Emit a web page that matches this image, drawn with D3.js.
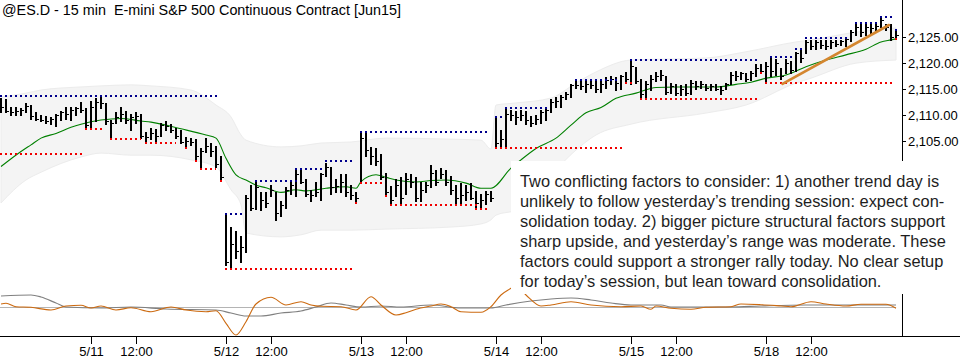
<!DOCTYPE html>
<html><head><meta charset="utf-8">
<script src="https://cdn.jsdelivr.net/npm/d3@7"></script>
<style>body{margin:0;background:#fff}svg{display:block}</style>
</head><body><svg id="c" width="960" height="360"></svg>
<script>
// ---------- DATA ----------
const highs = [2113.25,2113.0,2111.5,2111.5,2111.25,2112.25,2112.0,2110.5,2110.0,2109.75,2109.5,2110.25,2110.75,2111.5,2111.5,2111.5,2112.5,2111.25,
2112.75,2113.25,2113.5,2112.25,2109.0,2110.5,2111.5,2110.75,2110.25,2110.5,2110.25,2106.75,2107.5,2107.25,2108.5,2108.75,2108.25,2107.5,2107.0,2105.75,2105.5,2105.25,2103.5,2105.5,2104.5,2104.0,2102.0,
2090.75,2088.25,2087.5,2086.5,2094.5,2096.5,2097.0,2095.0,2095.0,2096.5,2095.0,2093.25,2096.0,2097.0,2099.25,2099.25,2097.5,2095.5,2097.0,2098.75,2100.75,2100.0,2097.5,2098.5,2098.5,2096.5,2095.0,
2106.5,2106.5,2103.75,2103.5,2102.5,2098.75,2096.25,2097.5,2098.0,2098.75,2098.5,2098.0,2097.0,2097.0,2100.25,2099.25,2099.75,2099.25,2098.25,2096.5,2096.75,2096.5,2096.75,2095.25,2094.75,2095.25,2095.25,
2109.5,2107.0,2111.25,2111.0,2110.75,2111.0,2110.75,2109.75,2110.0,2111.0,2111.25,2113.0,2113.5,2113.75,2114.5,2116.0,2116.5,2116.5,2116.5,2116.5,2116.5,2116.5,2117.25,2117.5,2117.25,2117.75,2118.25,
2120.5,2119.25,2117.0,2116.5,2117.75,2118.25,2118.75,2117.5,2116.25,2116.0,2115.75,2116.0,2116.75,2116.5,2116.5,2116.0,2116.0,2116.0,2115.5,2116.25,2118.25,2118.5,2118.25,2118.0,2118.5,2119.75,2119.75,
2120.25,2121.0,2120.75,2119.0,2120.75,2120.5,2122.25,2122.75,2124.5,2124.5,2124.5,2124.5,2124.5,2124.5,2124.5,2124.5,2125.0,2126.5,2127.5,2127.5,2127.5,2127.5,2127.5,2128.75,2127.5,2127.5,2126.25];
const lows = [2110.5,2110.5,2110.0,2110.0,2110.0,2110.5,2109.25,2109.0,2108.75,2108.5,2108.25,2107.75,2109.0,2109.25,2109.0,2110.0,2110.5,2107.5,
2107.5,2108.75,2111.25,2108.25,2105.5,2108.5,2108.75,2108.5,2107.0,2108.5,2105.5,2104.75,2105.25,2105.0,2106.0,2107.0,2106.75,2105.5,2104.5,2103.75,2104.25,2101.25,2099.5,2102.75,2102.0,2100.0,2097.5,
2081.0,2080.5,2082.25,2081.5,2083.5,2091.5,2091.75,2091.5,2092.25,2094.25,2089.75,2090.5,2092.0,2094.75,2094.25,2096.75,2094.25,2093.25,2094.25,2093.5,2098.25,2094.75,2095.0,2095.0,2094.25,2093.75,2093.25,
2097.0,2102.0,2100.5,2100.25,2097.5,2094.5,2092.75,2094.25,2093.0,2094.75,2096.0,2093.25,2093.25,2095.0,2096.0,2096.5,2097.75,2096.5,2094.75,2093.0,2093.0,2093.5,2093.75,2092.0,2092.0,2092.75,2093.25,
2103.75,2103.75,2103.75,2109.0,2108.25,2109.0,2108.25,2107.75,2108.25,2108.5,2109.0,2110.5,2111.5,2111.5,2113.0,2113.5,2115.25,2115.0,2114.5,2115.25,2114.5,2114.5,2115.25,2116.0,2114.75,2115.0,2116.25,
2116.0,2116.25,2113.25,2113.25,2114.75,2116.5,2116.75,2114.0,2114.25,2113.75,2113.75,2113.75,2114.0,2115.0,2115.25,2114.75,2114.75,2114.75,2114.0,2115.0,2116.0,2116.75,2117.0,2116.5,2116.75,2117.5,2118.25,
2116.5,2117.5,2117.75,2117.0,2118.0,2118.0,2118.5,2120.25,2122.0,2122.75,2122.75,2123.0,2122.75,2123.0,2123.25,2123.5,2123.25,2124.25,2125.5,2125.25,2125.5,2125.5,2126.5,2127.0,2126.5,2124.5,2124.75];
const closes = [2111.5,2110.75,2110.5,2110.75,2111.0,2111.75,2109.75,2109.25,2109.0,2108.75,2109.25,2110.0,2110.5,2110.25,2111.0,2111.25,2111.0,2108.0,
2111.5,2112.5,2112.25,2108.75,2108.5,2109.5,2110.25,2109.0,2109.5,2109.75,2106.0,2105.75,2106.5,2106.0,2108.0,2107.75,2107.0,2106.0,2104.75,2105.0,2104.75,2102.0,2103.0,2104.0,2103.0,2100.5,2098.0,
2081.5,2085.0,2083.75,2084.5,2094.0,2092.0,2096.0,2093.5,2093.0,2095.5,2091.0,2092.5,2095.5,2096.5,2098.5,2097.0,2094.75,2094.5,2095.0,2098.5,2100.0,2096.0,2096.25,2097.0,2095.0,2094.5,2094.0,
2105.5,2103.25,2102.0,2101.0,2098.0,2095.0,2093.5,2096.5,2094.0,2097.5,2097.0,2094.0,2095.5,2096.5,2098.75,2097.0,2098.5,2097.0,2095.5,2094.0,2094.5,2095.0,2094.0,2093.0,2093.5,2094.75,2094.0,
2104.5,2105.25,2110.25,2110.0,2109.5,2110.0,2109.0,2108.5,2109.25,2110.5,2111.0,2112.5,2112.75,2113.5,2114.0,2115.75,2115.75,2115.5,2116.0,2115.75,2115.0,2116.0,2116.75,2117.0,2116.25,2117.5,2117.0,
2119.5,2116.5,2114.0,2116.0,2117.0,2117.5,2117.75,2114.5,2115.5,2114.25,2115.0,2114.25,2116.25,2115.5,2116.0,2115.25,2115.5,2115.0,2114.75,2116.0,2117.75,2117.5,2118.0,2117.0,2118.0,2119.0,2118.5,
2119.5,2118.5,2120.0,2117.5,2120.0,2118.75,2122.0,2121.0,2124.0,2123.25,2124.0,2123.5,2123.25,2124.0,2123.75,2124.25,2124.75,2126.0,2127.0,2126.0,2127.0,2126.75,2127.25,2128.25,2127.0,2125.0,2125.5];

// moving average [bar index, price]
const maPts = [[0,2100.0],[4,2102.9],[6,2104.2],[8,2105.5],[11,2106.4],[14,2107.6],[16,2108.2],[20,2109.0],[24,2109.3],[28,2108.8],[30,2108.6],[36,2107.3],[41,2106.1],[43,2105.5],[45,2101.6],[47,2098.4],[49,2097.4],[51,2096.4],[53,2095.9],[56,2095.0],[59,2095.5],[61,2095.3],[65,2095.8],[69,2096.1],[71,2095.8],[72,2097.1],[75,2098.4],[77,2097.9],[79,2097.4],[83,2097.0],[86,2097.3],[89,2097.4],[93,2096.8],[96,2095.8],[98,2095.8],[102,2099.7],[104,2101.3],[107,2103.5],[111,2105.5],[114,2108.0],[117,2110.4],[120,2111.4],[123,2113.2],[127,2114.2],[131,2115.3],[135,2115.4],[139,2115.4],[143,2115.4],[147,2115.9],[150,2116.3],[153,2117.1],[157,2117.7],[161,2119.3],[165,2120.6],[169,2121.6],[173,2122.7],[176,2124.1],[178,2124.5],[179,2124.7]];

// envelope band [bar index, upper, lower]
const bandPts = [[0,2113.45,2092.95],[5,2114.2,2097.4],[8,2114.8,2098.9],[16,2115.4,2101.85],[20,2115.6,2102.6],[26,2115.8,2102.2],[30,2115.6,2102.2],[38,2114.8,2101.3],[43,2111.9,2099.9],[46,2109.6,2095.5],[48,2106.1,2092.6],[49,2105.1,2087.15],[56,2103.8,2086.4],[60,2104.0,2086.8],[64,2104.55,2087.7],[70,2104.75,2087.7],[77,2105.5,2087.9],[90,2105.3,2088.3],[96,2105.1,2088.9],[98,2103.4,2089.7],[99,2111.9,2090.6],[103,2112.3,2091.6],[110,2113.25,2098.4],[115,2116.15,2103.2],[119,2118.3,2106.1],[126,2120.6,2108.2],[141,2121.0,2110.35],[149,2122.2,2111.9],[159,2124.1,2116.15],[162,2124.5,2117.1],[171,2126.0,2120.0],[179,2126.8,2120.6]];

// oscillator [bar index, value]
const oscSlow = [[0,1.1],[6,1.2],[8,1.0],[11,0.4],[13,0.0],[20,-0.1],[26,0.0],[33,-0.2],[43,-0.3],[46,-0.6],[49,-0.9],[52,-0.9],[56,-0.6],[60,-0.4],[63,0.0],[66,0.4],[69,0.2],[72,0.0],[76,0.1],[80,0.0],[86,0.2],[92,-0.1],[98,-0.1],[101,0.2],[106,0.6],[110,0.8],[114,0.9],[118,0.7],[122,0.4],[126,0.2],[132,0.2],[134,0.0],[146,0.0],[152,0.1],[161,0.2],[179,0.2]];
const oscFast = [[0,0.3],[1,0.37],[3,0.03],[6,-0.03],[10,-0.3],[13,0.1],[16,0.17],[18,-0.1],[20,0.1],[23,-0.3],[26,-0.07],[30,-0.47],[34,0.0],[37,-0.3],[41,-0.47],[43,-0.37],[45,-1.63],[47,-2.8],[49,-1.47],[51,0.3],[54,0.97],[57,0.2],[60,0.53],[62,0.2],[64,0.07],[68,0.03],[71,-0.3],[74,1.03],[76,0.2],[79,-0.8],[81,-0.57],[83,-0.23],[86,0.1],[88,0.3],[90,0.03],[92,-0.47],[96,-0.53],[98,0.03],[100,1.2],[102,1.87],[103,2.2],[105,1.2],[108,0.1],[110,0.2],[114,0.53],[118,0.2],[124,0.03],[128,0.1],[130,-0.23],[131,0.1],[134,-0.13],[138,-0.23],[141,-0.03],[146,0.03],[148,0.3],[152,0.23],[156,0.1],[158,0.03],[162,0.53],[165,0.3],[169,0.1],[172,0.27],[177,0.27],[179,-0.13]];

// dotted swing levels [price, from bar, to bar, kind]
const levels = [[2113.45,0,43.2,'H'],[2090.6,45,48,'H'],[2097.1,51,59,'H'],[2099.3,59,64.4,'H'],[2100.9,65,70.4,'H'],[2106.55,72,97.4,'H'],[2109.4,99,100,'H'],[2111.2,101,109,'H'],[2116.6,115,123.4,'H'],[2120.5,126,151.2,'H'],[2120.95,154,158.4,'H'],[2122.45,159,160.4,'H'],[2124.6,161,169,'H'],[2127.6,171,175.6,'H'],[2128.7,176,178.2,'H'],[2126.2,179,179.4,'H'],
[2102.7,0,16.2,'L'],[2107.4,17,20.4,'L'],[2105.6,22,27.8,'L'],[2104.8,29,34.8,'L'],[2103.85,37,37.6,'L'],[2101.25,39,39.6,'L'],[2099.65,40,42.8,'L'],[2097.4,44,44.6,'L'],[2080.4,45,70.2,'L'],[2093.2,71,71.6,'L'],[2097.0,72,76,'L'],[2094.5,77,77.6,'L'],[2092.8,78,95.4,'L'],[2092.0,95,97,'L'],[2103.7,99,124.2,'L'],[2116.4,125,126,'L'],[2113.3,128,151.2,'L'],[2118.35,152,152.6,'L'],[2116.4,153,178.4,'L'],[2124.8,179,179.4,'L']];

const trend = [[156.3,2115.97],[177.6,2127.38]];
const priceTicks = [2105,2110,2115,2120,2125];
const timeTicks = [[18,'5/11'],[27,'12:00'],[45,'5/12'],[54,'12:00'],[72,'5/13'],[81,'12:00'],[99,'5/14'],[108,'12:00'],[126,'5/15'],[135,'12:00'],[153,'5/18'],[162,'12:00']];
const title = '@ES.D - 15 min  E-mini S&P 500 Continuous Contract [Jun15]';
const note = ['Two conflicting factors to consider: 1) another trend day is',
'unlikely to follow yesterday\u2019s trending session: expect con-',
'solidation today. 2) bigger picture structural factors support',
'sharp upside, and yesterday\u2019s range was moderate. These',
'factors could support a stronger rally today. No clear setup',
'for today\u2019s session, but lean toward consolidation.'];

// ---------- DRAW ----------
const svg = d3.select('#c');
const FONT = "'Liberation Sans', Arial, sans-serif";
const x = d3.scaleLinear().domain([0,179]).range([1,896]);
const y = d3.scaleLinear().domain([2105,2125]).range([140.7,37.3]);
const yo = d3.scaleLinear().domain([-3,2.2]).range([337,285]);
const px = i => Math.round(x(i));

// band
svg.append('path').datum(bandPts)
  .attr('d', d3.area().x(d=>x(d[0])).y0(d=>y(d[2])).y1(d=>y(d[1])).curve(d3.curveMonotoneX))
  .attr('fill','#f4f4f4').attr('stroke','#ececec').attr('stroke-width',1);

// MA
svg.append('path').datum(maPts)
  .attr('d', d3.line().x(d=>x(d[0])).y(d=>y(d[1])).curve(d3.curveMonotoneX))
  .attr('fill','none').attr('stroke','#008000').attr('stroke-width',1.1);

// HLC bars
const gb = svg.append('g').attr('shape-rendering','crispEdges').attr('fill','#000');
highs.forEach((h,i)=>{
  const cx = px(i);
  const yt = Math.round(y(h)), yb = Math.round(y(lows[i]));
  gb.append('rect').attr('x',cx-1).attr('y',yt).attr('width',2).attr('height',Math.max(1,yb-yt+1));
  gb.append('rect').attr('x',cx+1).attr('y',Math.round(y(closes[i]))).attr('width',2).attr('height',1);
});

// dotted levels
const gl = svg.append('g').attr('shape-rendering','crispEdges');
levels.forEach(l=>{
  const yy = Math.round(y(l[0])) + (l[3]==='H' ? -1 : 1);
  const x0 = px(l[1]) - 1, x1 = Math.max(x(l[2]) + 1, x0 + 2);
  gl.append('line').attr('x1',x0).attr('x2',x1).attr('y1',yy).attr('y2',yy)
    .attr('stroke', l[3]==='H' ? '#00008c' : '#f00000').attr('stroke-width',2)
    .attr('stroke-dasharray','2,3');
});

// trend line
svg.append('line').attr('x1',x(trend[0][0])).attr('y1',y(trend[0][1]))
  .attr('x2',x(trend[1][0])).attr('y2',y(trend[1][1]))
  .attr('stroke','#d4862f').attr('stroke-width',2.6).attr('stroke-linecap','round');

// oscillator
svg.append('line').attr('x1',0).attr('x2',x(179)).attr('y1',Math.round(yo(0))+0.5).attr('y2',Math.round(yo(0))+0.5)
  .attr('stroke','#b4b4b4').attr('stroke-width',1);
svg.append('path').datum(oscSlow)
  .attr('d', d3.line().x(d=>x(d[0])).y(d=>yo(d[1])).curve(d3.curveMonotoneX))
  .attr('fill','none').attr('stroke','#808080').attr('stroke-width',1.2);
svg.append('path').datum(oscFast)
  .attr('d', d3.line().x(d=>x(d[0])).y(d=>yo(d[1])).curve(d3.curveMonotoneX))
  .attr('fill','none').attr('stroke','#cc6a10').attr('stroke-width',1.1);

// price axis
const ga = svg.append('g').attr('shape-rendering','crispEdges');
ga.append('line').attr('x1',902.5).attr('x2',902.5).attr('y1',0).attr('y2',337).attr('stroke','#000');
priceTicks.forEach(p=>{
  const yy = Math.round(y(p))+0.5;
  ga.append('line').attr('x1',903).attr('x2',906).attr('y1',yy).attr('y2',yy).attr('stroke','#000');
  svg.append('text').attr('x',908).attr('y',yy+4.5).attr('font-family',FONT).attr('font-size',13)
    .attr('fill','#000').text(d3.format(',.2f')(p));
});

// time axis
ga.append('line').attr('x1',0).attr('x2',960).attr('y1',336.5).attr('y2',336.5).attr('stroke','#000');
timeTicks.forEach(t=>{
  const xx = px(t[0])+0.5;
  ga.append('line').attr('x1',xx).attr('x2',xx).attr('y1',337).attr('y2',344).attr('stroke','#000');
  svg.append('text').attr('x',xx).attr('y',356).attr('text-anchor','middle').attr('font-family',FONT)
    .attr('font-size',13).attr('fill','#000').text(t[1]);
});

// title
svg.append('text').attr('x',2).attr('y',15).attr('font-family',FONT).attr('font-size',14)
  .style('white-space','pre')
  .attr('fill','#000').attr('textLength',399).attr('lengthAdjust','spacingAndGlyphs').text(title);

// annotation box
svg.append('rect').attr('x',511).attr('y',161).attr('width',449).attr('height',133).attr('fill','#fff');
note.forEach((s,k)=>{
  svg.append('text').attr('x',520).attr('y',186.7+20*k).attr('font-family',FONT)
    .attr('font-size',16.4).attr('fill','#1e1e1e').text(s);
});
</script></body></html>
